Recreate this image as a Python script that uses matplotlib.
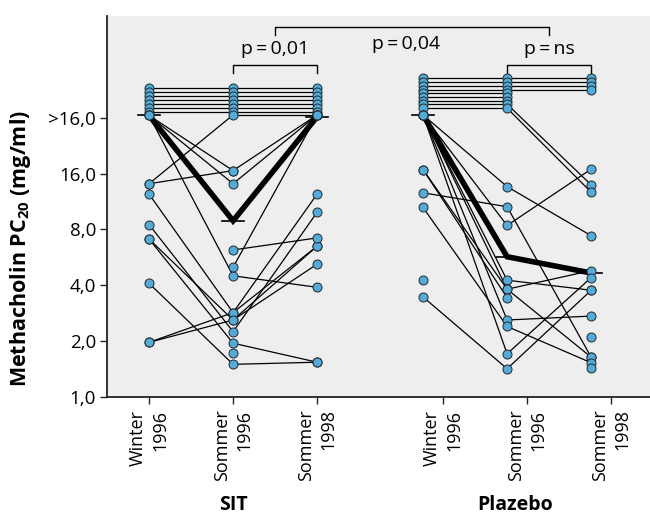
import numpy as np
import matplotlib.pyplot as plt
from matplotlib.ticker import NullLocator
from matplotlib.transforms import blended_transform_factory

plt.rcParams['font.family'] = ['Open Sans', 'DejaVu Sans']
plt.rcParams['mathtext.fontset'] = 'custom'
plt.rcParams['mathtext.rm'] = 'Open Sans'
plt.rcParams['mathtext.bf'] = 'Open Sans:bold'

nan = np.nan

# Daten: PC20 in mg/ml, Werte > 16 liegen gestapelt im Band ">16,0"
zeitpunkte = ["Winter\n1996", "Sommer\n1996", "Sommer\n1998"]
gruppen = ["SIT", "Plazebo"]
ytick_werte = [1, 2, 4, 8, 16, 32]
ytick_namen = ["1,0", "2,0", "4,0", "8,0", "16,0", ">16,0"]

sit_w96 = [46.2, 44.0, 41.9, 39.9, 38.1, 36.3, 34.5, 14.1, 32.9, 32.9, 14.1, 32.9,
           12.4, 8.5, 7.1, 7.1, 4.1, 1.97, nan, nan, 1.97, nan]
sit_s96 = [46.2, 44.0, 41.9, 39.9, 38.1, 36.3, 34.5, 33.1, 16.6, 14.1, 16.6, 4.5,
           2.85, 2.25, 2.6, 1.95, 1.5, 2.85, 5.0, 6.2, 2.6, 1.73]
sit_s98 = [46.2, 44.0, 41.9, 39.9, 38.1, 36.3, 34.5, 33.1, 33.1, 33.1, nan, 3.9,
           12.4, 9.9, 6.5, 1.54, 1.54, 6.5, 33.1, 7.2, 5.2, nan]
sit_mittel = [32.9, 8.9, 32.4]

pla_w96 = [52.3, 49.9, 47.5, 45.3, 43.4, 41.4, 39.4, 37.8, 36.0, 33.1, 33.1, 33.1,
           33.1, 33.1, 16.8, 12.6, 10.5, 3.46, 4.26, 16.8, 33.1, nan, nan]
pla_s96 = [52.3, 49.9, 47.5, 45.3, 43.4, 41.4, 39.4, 37.8, 36.0, 13.6, 4.26, 3.81,
           2.6, 1.71, 3.81, 10.6, 2.4, 1.42, nan, 3.43, 8.4, nan, nan]
pla_s98 = [52.3, 49.9, 47.5, 45.3, nan, nan, nan, 13.9, 12.7, 7.4, 3.76, 4.8,
           2.73, 4.4, 1.64, 1.64, 1.53, 3.76, nan, nan, 16.9, 2.1, 1.44]
pla_mittel = [33.1, 5.7, 4.66]

sit_x = [0, 1, 2]
pla_ticks = [3.5, 4.5, 5.5]
pla_x = [x - 0.24 for x in pla_ticks]

fig = plt.figure(figsize=(6.5, 5.14), dpi=100)
ax = fig.add_axes([0.1646, 0.2276, 0.8354, 0.7413])
ax.set_facecolor('#eeeeee')
ax.set_yscale('log', base=2)
ax.set_ylim(1, 113)
ax.set_xlim(-0.5, 5.96)


def gruppe(xs, w, s1, s2, mittel):
    daten = np.array([w, s1, s2]).T
    for row in daten:
        for i in range(2):
            if not np.isnan(row[i]) and not np.isnan(row[i + 1]):
                ax.plot(xs[i:i + 2], row[i:i + 2], color='black', lw=0.9, zorder=2)
    ax.plot(xs, mittel, color='black', lw=4, zorder=3, solid_joinstyle='miter')
    for x, m in zip(xs, mittel):
        ax.plot([x - 0.13, x + 0.13], [m, m], color='black', lw=1.2, zorder=3)
    for i in range(3):
        ax.plot(np.full(len(daten), xs[i]), daten[:, i], 'o', ms=6.5, mfc='#55aad7',
                mec='#1e2a30', mew=0.7, linestyle='none', zorder=4)


gruppe(sit_x, sit_w96, sit_s96, sit_s98, sit_mittel)
gruppe(pla_x, pla_w96, pla_s96, pla_s98, pla_mittel)

# Signifikanzklammern
ax.plot([1, 1, 2, 2], [55.8, 61.6, 61.6, 55.8], color='black', lw=1)
ax.plot([pla_x[1], pla_x[1], pla_x[2], pla_x[2]], [55.8, 61.6, 61.6, 55.8], color='black', lw=1)
mitte_pla = (pla_x[1] + pla_x[2]) / 2
ax.plot([1.5, 1.5, mitte_pla, mitte_pla], [89.3, 98.7, 98.7, 89.3], color='black', lw=1)
ax.text(1.5, 75, "p\u2009=\u20090,01", ha='center', va='center', fontsize=14)
ax.text(3.06, 80, "p\u2009=\u20090,04", ha='center', va='center', fontsize=14)
ax.text(mitte_pla, 75, "p\u2009=\u2009ns", ha='center', va='center', fontsize=14)

ax.set_yticks(ytick_werte)
ax.set_yticklabels(ytick_namen)
ax.yaxis.set_minor_locator(NullLocator())
ax.set_xticks(sit_x + pla_ticks)
ax.set_xticklabels(zeitpunkte * 2, rotation=90)
for lbl in ax.get_xticklabels():
    lbl.set_multialignment('right')
    lbl.set_linespacing(1.35)
ax.tick_params(axis='both', direction='out', length=5, width=1, color='#222222')
ax.tick_params(axis='y', pad=3, labelsize=13.5)
ax.tick_params(axis='x', pad=4, labelsize=13)

for s in ['top', 'right']:
    ax.spines[s].set_visible(False)
for s in ['left', 'bottom']:
    ax.spines[s].set_color('#222222')
    ax.spines[s].set_linewidth(1.3)

ax.set_ylabel(r"Methacholin PC$_{\mathbf{20}}$ (mg/ml)", fontsize=15.5, weight='bold')
ax.yaxis.set_label_coords(-0.136, 0.39)

trans = blended_transform_factory(ax.transData, fig.transFigure)
ax.text(1, 1 - 505 / 514, gruppen[0], transform=trans, ha='center', va='center',
        fontsize=14, weight='bold')
ax.text(4.36, 1 - 505 / 514, gruppen[1], transform=trans, ha='center', va='center',
        fontsize=14, weight='bold')

fig.savefig("out.png", dpi=100)
